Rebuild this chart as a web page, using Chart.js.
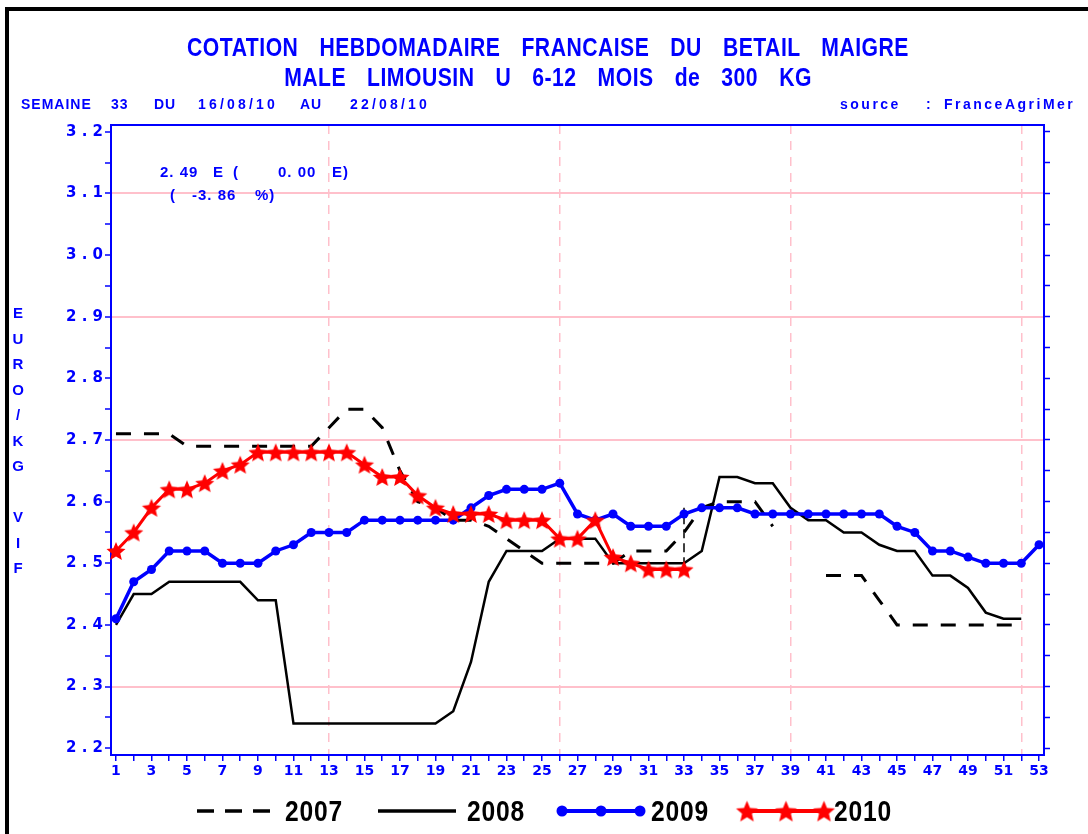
<!DOCTYPE html>
<html>
<head>
<meta charset="utf-8">
<script src="https://cdn.jsdelivr.net/npm/chart.js@4.4.1/dist/chart.umd.min.js"></script>
<style>
  body { margin: 0; background: #fff; }
  #wrap { position: relative; width: 1088px; height: 834px; overflow: hidden; background: #fff; }
  #wrap canvas { position: absolute; left: 0; top: 0; }
  #frame { position: absolute; left: 5px; top: 7px; width: 1200px; height: 900px; border-left: 4px solid #000; border-top: 4px solid #000; }
  .t { position: absolute; color: #0000ff; font-family: "Liberation Sans", Arial, sans-serif; font-weight: bold; white-space: pre; }
  .title { left: 4px; width: 1088px; text-align: center; font-size: 26px; line-height: 30px; letter-spacing: 0.6px; word-spacing: 18px; transform: scaleX(0.814); transform-origin: 50% 50%; }
  .sub { font-size: 14px; line-height: 18px; top: 95px; letter-spacing: 1px; }
  .date { letter-spacing: 3.2px; }
  .src { font-size: 14px; line-height: 18px; top: 95px; letter-spacing: 2.5px; }
  .ann { font-size: 15px; line-height: 18px; letter-spacing: 1px; }
  #ytitle { left: 8px; top: 300px; width: 20px; text-align: center; font-size: 15px; line-height: 25.5px; }
  .leg { position: absolute; top: 794px; font-family: "Liberation Sans", Arial, sans-serif; font-weight: bold; font-size: 30px; line-height: 34px; letter-spacing: 1px; color: #000; transform: scaleX(0.82); transform-origin: 0 50%; }
</style>
</head>
<body>
<div id="wrap">
  <canvas id="c" width="1088" height="834"></canvas>
  <div id="frame"></div>
  <div class="t title" style="top:32px">COTATION HEBDOMADAIRE FRANCAISE DU BETAIL MAIGRE</div>
  <div class="t title" style="top:62px">MALE LIMOUSIN U 6-12 MOIS de 300 KG</div>
  <span class="t sub" style="left:21px">SEMAINE</span>
  <span class="t sub" style="left:111px">33</span>
  <span class="t sub" style="left:154px">DU</span>
  <span class="t sub date" style="left:198px">16/08/10</span>
  <span class="t sub" style="left:300px">AU</span>
  <span class="t sub date" style="left:350px">22/08/10</span>
  <span class="t src" style="left:840px">source</span>
  <span class="t src" style="left:926px">:</span>
  <span class="t src" style="left:944px">FranceAgriMer</span>
  <span class="t ann" style="left:160px;top:163px">2. 49</span>
  <span class="t ann" style="left:213px;top:163px">E</span>
  <span class="t ann" style="left:233px;top:163px">(</span>
  <span class="t ann" style="left:278px;top:163px">0. 00</span>
  <span class="t ann" style="left:332px;top:163px">E)</span>
  <span class="t ann" style="left:170px;top:186px">(</span>
  <span class="t ann" style="left:192px;top:186px">-3. 86</span>
  <span class="t ann" style="left:255px;top:186px">%)</span>
  <div class="t" id="ytitle">E<br>U<br>R<br>O<br>/<br>K<br>G<br> <br>V<br>I<br>F</div>
  <span class="leg" style="left:285px">2007</span>
  <span class="leg" style="left:467px">2008</span>
  <span class="leg" style="left:651px">2009</span>
  <span class="leg" style="left:834px">2010</span>
</div>
<script>
const BLUE = "#0000ff";
const RED = "#ff0000";
const PINK = "#ffc0cb";

// weeks of the year (x categories)
const weeks = Array.from({ length: 53 }, (_, i) => i + 1);

// prices in euro / kg, index 0 = week 1
const price2007 = [2.71, 2.71, 2.71, 2.71, 2.69, 2.69, 2.69, 2.69, 2.69, 2.69, 2.69, 2.69,
  2.72, 2.75, 2.75, 2.72, 2.65, 2.60, 2.59, 2.57, 2.57, 2.56, 2.54, 2.52, 2.50,
  2.50, 2.50, 2.50, 2.50, 2.52, 2.52, 2.52, 2.55, 2.59, 2.60, 2.60, 2.60, 2.56,
  null, null, 2.48, 2.48, 2.48, 2.44, 2.40, 2.40, 2.40, 2.40, 2.40, 2.40, 2.40, 2.40];
const price2008 = [2.40, 2.45, 2.45, 2.47, 2.47, 2.47, 2.47, 2.47, 2.44, 2.44,
  2.24, 2.24, 2.24, 2.24, 2.24, 2.24, 2.24, 2.24, 2.24, 2.26, 2.34, 2.47,
  2.52, 2.52, 2.52, 2.54, 2.54, 2.54, 2.50, 2.50, 2.50, 2.50, 2.50, 2.52,
  2.64, 2.64, 2.63, 2.63, 2.59, 2.57, 2.57, 2.55, 2.55, 2.53, 2.52, 2.52,
  2.48, 2.48, 2.46, 2.42, 2.41, 2.41];
const price2009 = [2.41, 2.47, 2.49, 2.52, 2.52, 2.52, 2.50, 2.50, 2.50, 2.52,
  2.53, 2.55, 2.55, 2.55, 2.57, 2.57, 2.57, 2.57, 2.57, 2.57,
  2.59, 2.61, 2.62, 2.62, 2.62, 2.63, 2.58, 2.57, 2.58, 2.56, 2.56, 2.56,
  2.58, 2.59, 2.59, 2.59, 2.58, 2.58, 2.58, 2.58, 2.58, 2.58, 2.58, 2.58,
  2.56, 2.55, 2.52, 2.52, 2.51, 2.50, 2.50, 2.50, 2.53];
const price2010 = [2.52, 2.55, 2.59, 2.62, 2.62, 2.63, 2.65, 2.66,
  2.68, 2.68, 2.68, 2.68, 2.68, 2.68, 2.66, 2.64, 2.64, 2.61, 2.59,
  2.58, 2.58, 2.58, 2.57, 2.57, 2.57, 2.54, 2.54, 2.57, 2.51, 2.50, 2.49, 2.49, 2.49];

// current week marker
const currentWeek = 33;
const weekMarker = [2.495, 2.59];

// axis ticks and grid
const yTicks = [2.2, 2.25, 2.3, 2.35, 2.4, 2.45, 2.5, 2.55, 2.6, 2.65, 2.7,
  2.75, 2.8, 2.85, 2.9, 2.95, 3.0, 3.05, 3.1, 3.15, 3.2];
const yGridLevels = [2.3, 2.7, 2.9, 3.1];
const xGridWeeks = [13, 26, 39, 52];

const toPoints = vals => vals.map((v, i) => ({ x: weeks[i], y: v }));
const near = (a, b) => Math.abs(a - b) < 1e-6;
const isMajorY = v => near(Math.round(v * 10) / 10, v);

// filled five point star for 2010
function makeStar(r, color) {
  const c = document.createElement("canvas");
  c.width = c.height = Math.ceil(r * 2 + 2);
  const g = c.getContext("2d");
  const cx = c.width / 2, cy = c.height / 2 + r * 0.1;
  g.beginPath();
  for (let i = 0; i < 10; i++) {
    const rad = i % 2 === 0 ? r : r * 0.45;
    const a = -Math.PI / 2 + i * Math.PI / 5;
    g.lineTo(cx + rad * Math.cos(a), cy + rad * Math.sin(a));
  }
  g.closePath();
  g.fillStyle = color;
  g.fill();
  return c;
}
const star = makeStar(10, RED);
const legendStar = makeStar(11.5, RED);

// legend swatches under the chart
const legendSwatches = {
  id: "legendSwatches",
  afterDraw(chart) {
    const ctx = chart.ctx;
    const y = 811;
    ctx.save();
    ctx.lineCap = "butt";
    ctx.strokeStyle = "#000";
    ctx.lineWidth = 3.5;
    ctx.setLineDash([17, 11]);
    ctx.beginPath(); ctx.moveTo(197, y); ctx.lineTo(270, y); ctx.stroke();
    ctx.setLineDash([]);
    ctx.lineWidth = 3.5;
    ctx.beginPath(); ctx.moveTo(378, y); ctx.lineTo(456, y); ctx.stroke();
    ctx.strokeStyle = BLUE;
    ctx.fillStyle = BLUE;
    ctx.lineWidth = 4;
    ctx.beginPath(); ctx.moveTo(562, y); ctx.lineTo(640, y); ctx.stroke();
    [562, 601, 640].forEach(x => { ctx.beginPath(); ctx.arc(x, y, 5.5, 0, Math.PI * 2); ctx.fill(); });
    ctx.strokeStyle = RED;
    ctx.beginPath(); ctx.moveTo(747, y); ctx.lineTo(826, y); ctx.stroke();
    [747, 786, 824].forEach(x => ctx.drawImage(legendStar, x - legendStar.width / 2, y - legendStar.height / 2));
    ctx.restore();
  }
};

const tickFont = { family: "DejaVu Sans", weight: "bold", size: 15 };

new Chart(document.getElementById("c"), {
  type: "line",
  data: {
    datasets: [
      {
        label: "2010",
        data: toPoints(price2010),
        borderColor: RED,
        backgroundColor: RED,
        borderWidth: 3,
        pointStyle: star,
        pointRadius: 10,
        order: 1,
        clip: 14,
      },
      {
        label: "2009",
        data: toPoints(price2009),
        borderColor: BLUE,
        backgroundColor: BLUE,
        borderWidth: 3.5,
        pointStyle: "circle",
        pointRadius: 4.5,
        pointBorderWidth: 0,
        order: 2,
        clip: 10,
      },
      {
        label: "2008",
        data: toPoints(price2008),
        borderColor: "#000",
        borderWidth: 2.5,
        pointRadius: 0,
        order: 3,
      },
      {
        label: "2007",
        data: toPoints(price2007),
        borderColor: "#000",
        borderWidth: 3,
        borderDash: [15, 13],
        pointRadius: 0,
        spanGaps: false,
        order: 4,
      },
      {
        label: "semaine",
        data: weekMarker.map(v => ({ x: currentWeek, y: v })),
        borderColor: "#000",
        borderWidth: 1.5,
        borderDash: [9, 5],
        pointRadius: 0,
        order: 5,
      },
    ],
  },
  options: {
    responsive: false,
    animation: false,
    layout: { padding: { left: 51, right: 34, top: 125, bottom: 39 } },
    plugins: { legend: { display: false }, tooltip: { enabled: false } },
    scales: {
      x: {
        type: "linear",
        position: "bottom",
        min: 0.72,
        max: 53.28,
        afterBuildTicks: ax => { ax.ticks = weeks.map(w => ({ value: w })); },
        afterFit: ax => { ax.height = 40; },
        ticks: {
          autoSkip: false,
          maxRotation: 0,
          padding: 2,
          color: BLUE,
          font: { family: "DejaVu Sans", weight: "bold", size: 14 },
          callback: v => (v % 2 === 1 ? String(v) : ""),
        },
        grid: {
          color: c => (c.tick && xGridWeeks.includes(c.tick.value) ? PINK : "rgba(0,0,0,0)"),
          lineWidth: 1.5,
          tickColor: BLUE,
          tickLength: 6,
          tickWidth: 1.5,
        },
        border: { color: BLUE, width: 2, dash: [9, 7] },
      },
      xTop: {
        type: "linear",
        position: "top",
        min: 0.72,
        max: 53.28,
        afterFit: ax => { ax.height = 0; },
        ticks: { display: false },
        grid: { display: false },
        border: { color: BLUE, width: 2 },
      },
      y: {
        type: "linear",
        position: "left",
        min: 2.189,
        max: 3.211,
        afterBuildTicks: ax => { ax.ticks = yTicks.map(v => ({ value: v })); },
        afterFit: ax => { ax.width = 60; },
        ticks: {
          padding: 2,
          color: BLUE,
          font: tickFont,
          callback: v => (isMajorY(v) ? v.toFixed(1).split("").join(" ") : ""),
        },
        grid: {
          color: c => (c.tick && yGridLevels.some(l => near(l, c.tick.value)) ? PINK : "rgba(0,0,0,0)"),
          lineWidth: 2,
          tickColor: BLUE,
          tickLength: 6,
          tickWidth: 1.5,
        },
        border: { color: BLUE, width: 2 },
      },
      y2: {
        type: "linear",
        position: "right",
        min: 2.189,
        max: 3.211,
        afterBuildTicks: ax => { ax.ticks = yTicks.map(v => ({ value: v })); },
        afterFit: ax => { ax.width = 10; },
        ticks: { display: false },
        grid: {
          drawOnChartArea: false,
          tickColor: BLUE,
          tickLength: 6,
          tickWidth: 1.5,
        },
        border: { color: BLUE, width: 2 },
      },
    },
  },
  plugins: [legendSwatches],
});
</script>
</body>
</html>
